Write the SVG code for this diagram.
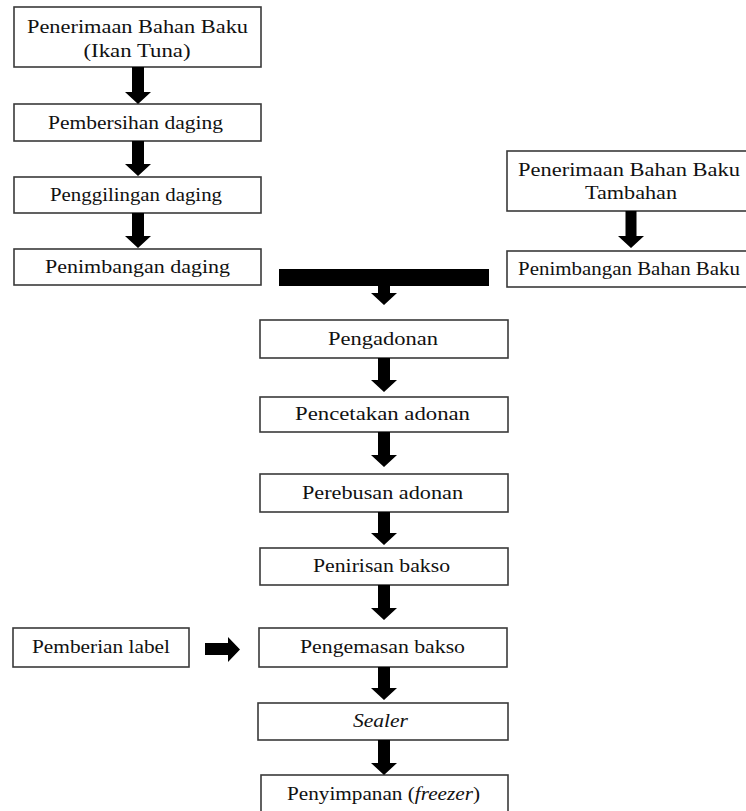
<svg xmlns="http://www.w3.org/2000/svg" width="746" height="811" viewBox="0 0 746 811">
<style>
.box{fill:#fff;stroke:#3a3a3a;stroke-width:1.6}
.t{font-family:"Liberation Serif","Times New Roman",serif;font-size:18px;fill:#111;text-anchor:middle}
.i{font-style:italic}
.arr{fill:#000}
</style>
<rect width="746" height="811" fill="#fff"/>
<g id="n1"><rect class="box" x="14" y="7" width="247" height="60"/>
<text class="t" x="137.5" y="33" textLength="221" lengthAdjust="spacingAndGlyphs">Penerimaan Bahan Baku</text>
<text class="t" x="137" y="57" textLength="107" lengthAdjust="spacingAndGlyphs">(Ikan Tuna)</text></g>
<g id="n2"><rect class="box" x="14" y="104" width="247" height="37"/>
<text class="t" x="135.5" y="129" textLength="175" lengthAdjust="spacingAndGlyphs">Pembersihan daging</text></g>
<g id="n3"><rect class="box" x="14" y="177" width="247" height="36"/>
<text class="t" x="136" y="201" textLength="172" lengthAdjust="spacingAndGlyphs">Penggilingan daging</text></g>
<g id="n4"><rect class="box" x="14" y="249" width="247" height="36"/>
<text class="t" x="137.5" y="273" textLength="185" lengthAdjust="spacingAndGlyphs">Penimbangan daging</text></g>
<g id="r1"><rect class="box" x="507" y="151" width="260" height="60"/>
<text class="t" x="629" y="176" textLength="222" lengthAdjust="spacingAndGlyphs">Penerimaan Bahan Baku</text>
<text class="t" x="631" y="199" textLength="92" lengthAdjust="spacingAndGlyphs">Tambahan</text></g>
<g id="r2"><rect class="box" x="507" y="251" width="260" height="36"/>
<text class="t" x="629" y="275" textLength="222" lengthAdjust="spacingAndGlyphs">Penimbangan Bahan Baku</text></g>
<g id="m1"><rect class="box" x="260" y="320" width="248" height="38"/>
<text class="t" x="383" y="345" textLength="110" lengthAdjust="spacingAndGlyphs">Pengadonan</text></g>
<g id="m2"><rect class="box" x="260" y="397" width="248" height="35"/>
<text class="t" x="382.5" y="420" textLength="175" lengthAdjust="spacingAndGlyphs">Pencetakan adonan</text></g>
<g id="m3"><rect class="box" x="260" y="474" width="248" height="38"/>
<text class="t" x="382.5" y="499" textLength="161" lengthAdjust="spacingAndGlyphs">Perebusan adonan</text></g>
<g id="m4"><rect class="box" x="260" y="548" width="248" height="37"/>
<text class="t" x="381.5" y="572" textLength="137" lengthAdjust="spacingAndGlyphs">Penirisan bakso</text></g>
<g id="m5"><rect class="box" x="259" y="628" width="248" height="39"/>
<text class="t" x="382.5" y="653" textLength="165" lengthAdjust="spacingAndGlyphs">Pengemasan bakso</text></g>
<g id="m6"><rect class="box" x="258" y="703" width="250" height="37"/>
<text class="t i" x="380.5" y="727" textLength="55" lengthAdjust="spacingAndGlyphs">Sealer</text></g>
<g id="m7"><rect class="box" x="261" y="775" width="247" height="45"/>
<text class="t" x="383.5" y="800" textLength="193" lengthAdjust="spacingAndGlyphs">Penyimpanan (<tspan class="i">freezer</tspan>)</text></g>
<g id="l1"><rect class="box" x="13" y="628" width="176" height="39"/>
<text class="t" x="101" y="653" textLength="138" lengthAdjust="spacingAndGlyphs">Pemberian label</text></g>
<g id="connectors" class="arr">
<path d="M132,67 H144 V92 H151 L138,104 L125,92 H132 Z"/>
<path d="M132,141 H144 V164 H151 L138,176 L125,164 H132 Z"/>
<path d="M132,213 H144 V236 H151 L138,248 L125,236 H132 Z"/>
<path d="M625.5,211 H636.5 V236 H644 L631,248 L618,236 H625.5 Z"/>
<rect x="279" y="269" width="210" height="17"/>
<path d="M378,286 H390 V293 H397 L384,305 L371,293 H378 Z"/>
<path d="M378,358 H390 V380 H397 L384,392 L371,380 H378 Z"/>
<path d="M378,432 H390 V455 H397 L384,467 L371,455 H378 Z"/>
<path d="M378,512 H390 V533 H397 L384,545 L371,533 H378 Z"/>
<path d="M378,585 H390 V608 H397 L384,620 L371,608 H378 Z"/>
<path d="M378,667 H390 V688 H397 L384,700 L371,688 H378 Z"/>
<path d="M378,740 H390 V763 H397 L384,775 L371,763 H378 Z"/>
<path d="M205,643 H228 V637 L240,649.5 L228,662 V655 H205 Z"/>
</g>
</svg>
